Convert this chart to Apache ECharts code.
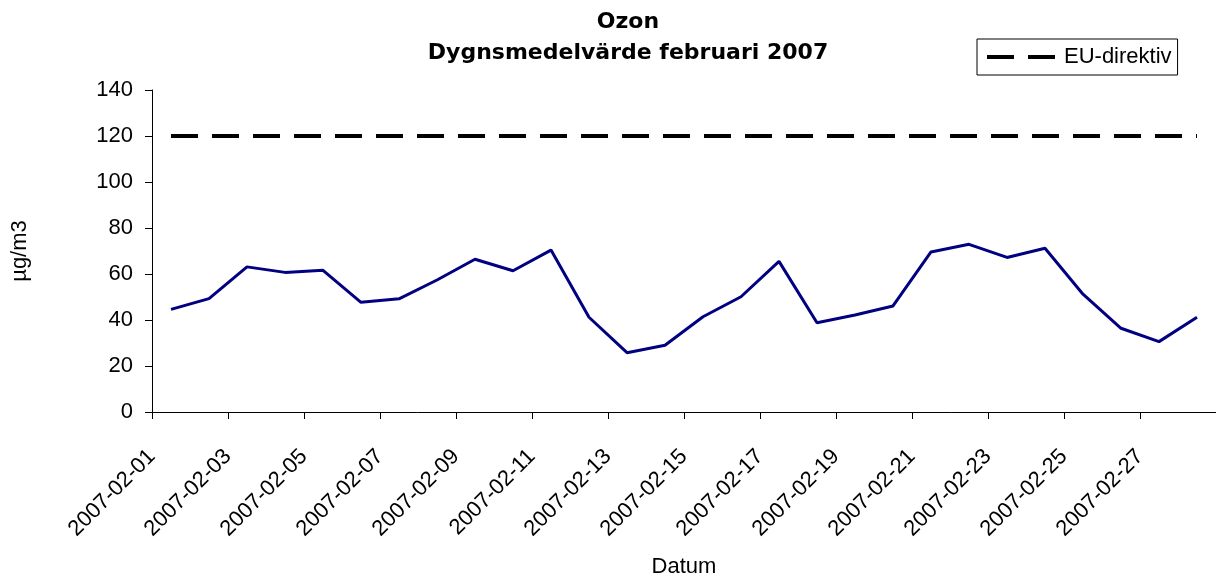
<!DOCTYPE html>
<html>
<head>
<meta charset="utf-8">
<title>Ozon februari 2007</title>
<script src="https://cdn.jsdelivr.net/npm/echarts@6/dist/echarts.min.js"></script>
<style>
    html, body { margin: 0; padding: 0; background: #fff; }
    #chart { width: 1216px; height: 578px; }
</style>
</head>
<body>
<div id="chart"></div>
<script>
// dygnsmedelvärden, läst ur diagrammet
const dates = [
    '2007-02-01', '2007-02-02', '2007-02-03', '2007-02-04', '2007-02-05', '2007-02-06', '2007-02-07',
    '2007-02-08', '2007-02-09', '2007-02-10', '2007-02-11', '2007-02-12', '2007-02-13', '2007-02-14',
    '2007-02-15', '2007-02-16', '2007-02-17', '2007-02-18', '2007-02-19', '2007-02-20', '2007-02-21',
    '2007-02-22', '2007-02-23', '2007-02-24', '2007-02-25', '2007-02-26', '2007-02-27', '2007-02-28'
]
const ozon = [
    44.6, 49.3, 63.1, 60.7, 61.6, 47.7, 49.2,
    57.4, 66.4, 61.4, 70.4, 41.2, 25.8, 29.0,
    41.4, 50.1, 65.5, 38.8, 42.2, 46.1, 69.6,
    72.9, 67.2, 71.2, 51.2, 36.4, 30.6, 41.2
]
const euDirektiv = [
    120, 120, 120, 120, 120, 120, 120,
    120, 120, 120, 120, 120, 120, 120,
    120, 120, 120, 120, 120, 120, 120,
    120, 120, 120, 120, 120, 120, 120
]
const yMin = 0
const yMax = 140
const yStep = 20

const font = 'Liberation Sans, Arial, sans-serif'
const dash = [27, 14]

const myChart = echarts.init(document.getElementById('chart'))

const option = {
    animation: false,
    backgroundColor: '#fff',
    title: {
        text: 'Ozon\nDygnsmedelvärde februari 2007',
        left: 628,
        top: 2,
        textAlign: 'center',
        padding: [5, 0, 5, 0],
        textStyle: {
            fontFamily: 'DejaVu Sans',
            fontWeight: 'bold',
            fontSize: 22,
            lineHeight: 31,
            color: '#000'
        }
    },
    legend: {
        data: ['EU-direktiv'],
        left: 977,
        top: 39,
        padding: [7, 6, 7, 8],
        itemWidth: 68,
        itemHeight: 14,
        borderColor: '#000',
        borderWidth: 1,
        borderRadius: 0,
        backgroundColor: '#fff',
        itemStyle: { opacity: 0, borderWidth: 0 },
        lineStyle: { color: '#000', width: 4, type: dash },
        textStyle: {
            fontFamily: font,
            fontSize: 22,
            color: '#000',
            padding: [0, 0, 0, 4]
        }
    },
    grid: {
        left: 152,
        right: 0,
        top: 90,
        bottom: 166,
        containLabel: false,
        outerBoundsMode: 'none'
    },
    xAxis: {
        type: 'category',
        data: dates,
        boundaryGap: true,
        name: 'Datum',
        nameLocation: 'middle',
        nameGap: 144,
        nameTextStyle: { fontFamily: font, fontSize: 22, color: '#000' },
        axisLine: { lineStyle: { color: '#000', width: 1 } },
        axisTick: { show: true, interval: 1, length: 7, lineStyle: { color: '#000' } },
        axisLabel: {
            interval: 1,
            rotate: 45,
            margin: 22,
            padding: [0, 27, 0, 0],
            fontFamily: font,
            fontSize: 22,
            color: '#000',
            hideOverlap: false
        },
        splitLine: { show: false }
    },
    yAxis: {
        type: 'value',
        min: yMin,
        max: yMax,
        interval: yStep,
        name: 'µg/m3',
        nameLocation: 'middle',
        nameGap: 121,
        nameTextStyle: { fontFamily: font, fontSize: 22, color: '#000' },
        axisLine: { show: true, lineStyle: { color: '#000', width: 1 } },
        axisTick: { show: true, length: 7, lineStyle: { color: '#000' } },
        axisLabel: { margin: 19, fontFamily: font, fontSize: 22, color: '#000' },
        splitLine: { show: false }
    },
    series: [
        {
            name: 'Ozon',
            type: 'line',
            data: ozon,
            symbol: 'none',
            lineStyle: { color: '#000080', width: 3 },
            itemStyle: { color: '#000080' }
        },
        {
            name: 'EU-direktiv',
            type: 'line',
            data: euDirektiv,
            symbol: 'none',
            lineStyle: { color: '#000', width: 4, type: dash },
            itemStyle: { color: '#000' }
        }
    ]
}

myChart.setOption(option)
</script>
</body>
</html>
